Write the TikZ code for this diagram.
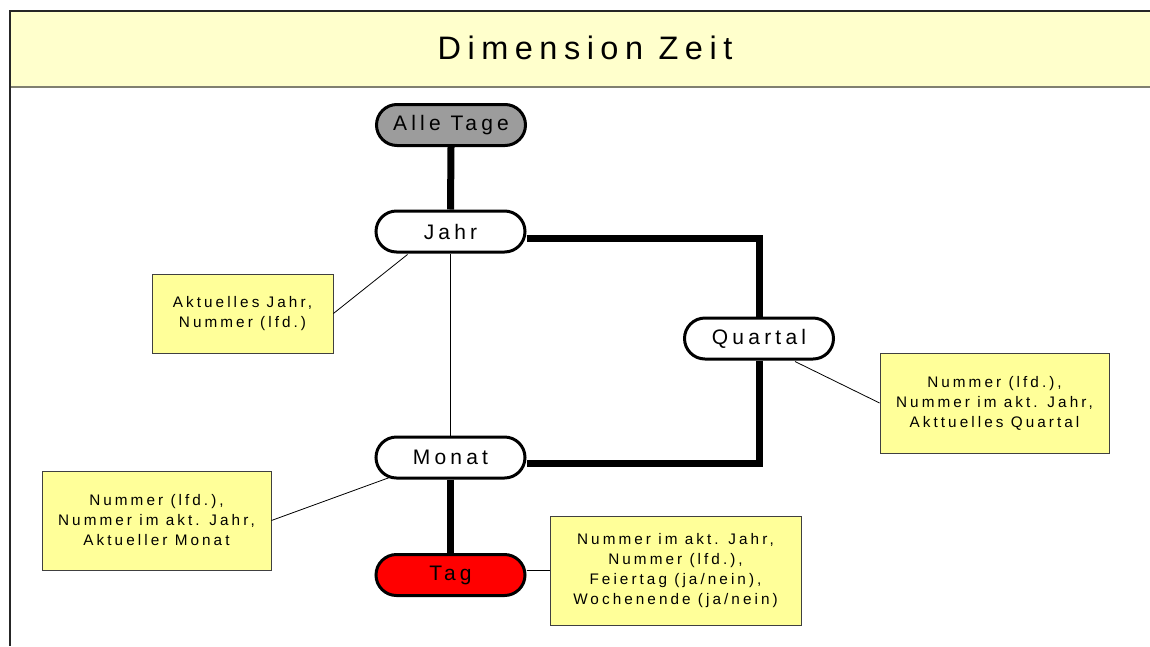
\documentclass[tikz,border=0pt]{standalone}
\usepackage{fontspec}
\setmainfont{Liberation Sans}
\newfontfamily\spaced[LetterSpace=20]{Liberation Sans}
\usetikzlibrary{shapes.misc}
\definecolor{bandyellow}{HTML}{FFFFCC}
\definecolor{noteyellow}{HTML}{FFFF99}
\definecolor{levelgray}{HTML}{9C9C9C}
\definecolor{bandline}{HTML}{808070}
\tikzset{
  level/.style={rounded rectangle, draw=black, line width=3pt, fill=white,
    minimum width=149pt, minimum height=41pt, inner sep=0pt,
    font=\spaced\fontsize{21}{24}\selectfont},
  note/.style={draw=black!75, line width=0.8pt, fill=noteyellow, inner sep=0pt,
    align=center, font=\spaced\fontsize{15.3}{20}\selectfont},
  rollup/.style={line width=7pt},
  attach/.style={line width=0.8pt}
}
\begin{document}
\begin{tikzpicture}[x=1pt,y=-1pt]
  \useasboundingbox (0,0) rectangle (1150,646);
  % title band and frame
  \fill[bandyellow] (10,11) rectangle (1150,87);
  \draw[bandline, line width=1.2pt] (10,87) -- (1150,87);
  \draw[black!85, line width=1.2pt] (1150,11) -- (10,11) -- (10,646);
  \node (title) at (585,48) {\spaced\fontsize{32.5}{36}\selectfont Dimension Zeit};

  % hierarchy levels
  \node[level, fill=levelgray] (alle) at (451,125) {Alle Tage};
  \node[level] (jahr) at (450.5,231.5) {Jahr};
  \node[level] (quartal) at (759,338.5) {Quartal};
  \node[level] (monat) at (450.5,457.5) {Monat};
  \node[level, fill=red] (tag) at (450.5,575) {Tag};

  % attribute notes
  \node[note, minimum width=181pt, minimum height=79pt] (njahr) at (242.5,313.5)
    {Aktuelles Jahr,\\Nummer (lfd.)};
  \node[note, minimum width=229pt, minimum height=100pt] (nquartal) at (994.5,403)
    {Nummer (lfd.),\\Nummer im akt. Jahr,\\Akttuelles Quartal};
  \node[note, minimum width=229pt, minimum height=99pt] (nmonat) at (156.5,520.5)
    {Nummer (lfd.),\\Nummer im akt. Jahr,\\Aktueller Monat};
  \node[note, minimum width=251pt, minimum height=109pt] (ntag) at (675.5,570.5)
    {Nummer im akt. Jahr,\\Nummer (lfd.),\\Feiertag (ja/nein),\\Wochenende (ja/nein)};

  % roll-up paths (thick)
  \draw[rollup] (alle.south) -- (jahr.north);
  \draw[rollup] ([yshift=-6.5pt]jahr.east) -| (quartal.north);
  \draw[rollup] (quartal.south) |- ([yshift=-5.5pt]monat.east);
  \draw[rollup] (monat.south) -- (tag.north);
  \draw[attach] (jahr.south) -- (monat.north);

  % note connectors (thin)
  \draw[attach] ([xshift=-43pt,yshift=-1pt]jahr.south) -- (njahr.east);
  \draw[attach] ([xshift=36pt,yshift=-1pt]quartal.south) -- (nquartal.west);
  \draw[attach] ([xshift=-61pt,yshift=2pt]monat.south) -- (nmonat.east);
  \draw[attach] ([yshift=4.5pt]tag.east) -- (ntag.west);
\end{tikzpicture}
\end{document}
